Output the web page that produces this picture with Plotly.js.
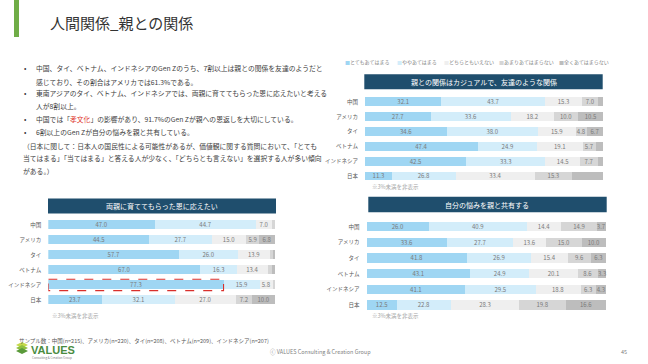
<!DOCTYPE html>
<html><head><meta charset="utf-8">
<script src="https://cdn.plot.ly/plotly-3.0.1.min.js"></script>
<style>html,body{margin:0;padding:0;background:#fff}#chart{width:648px;height:364px}</style>
</head><body><div id="chart"></div>
<script>
// ---------- DATA ----------
const countries = ['中国','アメリカ','タイ','ベトナム','インドネシア','日本'];
const responses = ['とてもあてはまる','ややあてはまる','どちらともいえない','あまりあてはまらない','全くあてはまらない'];

// Chart 1: 親との関係はカジュアルで、友達のような関係
const friendVery   = [32.1, 27.7, 34.6, 47.4, 42.5, 11.3];
const friendSome   = [43.7, 33.6, 38.0, 24.9, 33.3, 26.8];
const friendNeut   = [15.3, 18.2, 15.9, 19.1, 14.5, 33.4];
const friendNotMuch= [7.0, 10.0, 4.8, 5.7, 7.7, 15.3];
const friendNot    = [1.9, 10.5, 6.7, 2.9, 2.0, 13.3];

// Chart 2: 両親に育ててもらった恩に応えたい
const repayVery    = [47.0, 44.5, 57.7, 67.0, 77.3, 23.7];
const repaySome    = [44.7, 27.7, 26.0, 16.3, 15.9, 32.1];
const repayNeut    = [7.0, 15.0, 13.9, 13.4, 5.8, 27.0];
const repayNotMuch = [1.3, 5.9, 1.4, 1.9, 1.0, 7.2];
const repayNot     = [0.0, 6.8, 1.0, 1.4, 0.0, 10.0];

// Chart 3: 自分の悩みを親と共有する
const shareVery    = [26.0, 33.6, 41.8, 43.1, 41.1, 12.5];
const shareSome    = [40.9, 27.7, 26.9, 24.9, 29.5, 22.8];
const shareNeut    = [14.4, 13.6, 15.4, 20.1, 18.8, 28.3];
const shareNotMuch = [14.9, 15.0, 9.6, 8.6, 6.3, 19.8];
const shareNot     = [3.7, 10.0, 6.3, 3.3, 4.3, 16.6];

const chartTitles = ['親との関係はカジュアルで、友達のような関係','両親に育ててもらった恩に応えたい','自分の悩みを親と共有する'];
const highlightCountry = 'インドネシア';

// ---------- STYLE ----------
const W = 648, H = 364;
const fx = x => x / W, fy = y => 1 - y / H;
const colors = ['#9fd6f3','#d3edfa','#efefef','#d6d6d6','#bdbdbd'];
const FONT = '"Noto Sans CJK JP", "Noto Sans", sans-serif';
const darkBlue = '#1f4e6d';

const charts = [
  {series:[friendVery,friendSome,friendNeut,friendNotMuch,friendNot], xd:[365,603], yd:[94.3,183.4], head:[364.3,602.7,74.3,89.3], note:[370,187]},
  {series:[repayVery,repaySome,repayNeut,repayNotMuch,repayNot], xd:[48.3,275], yd:[217.2,307.5], head:[48,276,198.5,213.5], note:[50,316]},
  {series:[shareVery,shareSome,shareNeut,shareNotMuch,shareNot], xd:[366.7,606], yd:[218.8,312.8], head:[368.3,606.7,196.7,212.3], note:[370,316]}
];

const traces = [];
const layout = {
  width: W, height: H, margin:{l:0,r:0,t:0,b:0},
  paper_bgcolor:'#fff', plot_bgcolor:'rgba(0,0,0,0)',
  barmode:'stack', bargap:0.4, showlegend:false,
  font:{family:FONT, color:'#595959'},
  uniformtext:{mode:'show', minsize:6},
  shapes:[], annotations:[]
};

charts.forEach((c, ci) => {
  const sx = ci === 0 ? '' : String(ci+1);
  c.series.forEach((vals, si) => {
    traces.push({
      type:'bar', orientation:'h', y:countries, x:vals, name:responses[si],
      xaxis:'x'+sx, yaxis:'y'+sx,
      marker:{color:colors[si], line:{width:0}},
      text: vals.map(v => v >= 3 ? v.toFixed(1) : ''),
      textposition:'inside', insidetextanchor:'middle', textangle:0, constraintext:'none',
      textfont:{size:6, color:'#7a7a7a', family:FONT},
      hoverinfo:'skip', cliponaxis:false
    });
  });
  layout['xaxis'+sx] = {domain:[fx(c.xd[0]), fx(c.xd[1])], range:[0,100], anchor:'y'+sx,
    showgrid:false, zeroline:false, showticklabels:false, fixedrange:true, automargin:false};
  layout['yaxis'+sx] = {domain:[fy(c.yd[1]), fy(c.yd[0])], anchor:'x'+sx, autorange:'reversed',
    showgrid:false, zeroline:false, ticks:'outside', ticklen:5, tickcolor:'rgba(0,0,0,0)',
    tickfont:{size:5.5, color:'#595959', family:FONT}, automargin:false};
  const h = c.head;
  layout.shapes.push({type:'rect', xref:'paper', yref:'paper', x0:fx(h[0]), x1:fx(h[1]), y0:fy(h[3]), y1:fy(h[2]),
    fillcolor:darkBlue, line:{width:0}, layer:'below'});
  layout.annotations.push({xref:'paper', yref:'paper', x:fx((h[0]+h[1])/2), y:fy((h[2]+h[3])/2),
    text:chartTitles[ci], showarrow:false, xanchor:'center', yanchor:'middle',
    font:{size:7, color:'#ffffff', family:FONT}});
  layout.annotations.push({xref:'paper', yref:'paper', x:fx(c.note[0]), y:fy(c.note[1]),
    text:'※3%未満を非表示', showarrow:false, xanchor:'left', yanchor:'middle',
    font:{size:5.5, color:'#a6a6a6', family:FONT}});
});

// highlight box around Indonesia "very" segment in chart 2
const hi = countries.indexOf(highlightCountry);
layout.shapes.push({type:'rect', xref:'x2', yref:'y2', x0:0, x1:repayVery[hi], y0:hi-0.38, y1:hi+0.38,
  line:{color:'#d9302c', width:1.1, dash:'dash'}, fillcolor:'rgba(0,0,0,0)'});

// legend (annotations)
const legX = [343, 395, 441.7, 496.7, 556.7];
responses.forEach((r, i) => {
  layout.annotations.push({xref:'paper', yref:'paper', x:fx(legX[i]), y:fy(62), showarrow:false,
    xanchor:'left', yanchor:'middle',
    text:'<span style="color:'+colors[i]+'">■</span>'+r, font:{size:5, color:'#7f7f7f', family:FONT}});
});

// page title + accent bar
layout.shapes.push({type:'rect', xref:'paper', yref:'paper', x0:fx(14), x1:fx(19), y0:fy(37), y1:fy(0),
  fillcolor:'#70ad47', line:{width:0}});
layout.annotations.push({xref:'paper', yref:'paper', x:fx(48), y:fy(22), showarrow:false,
  xanchor:'left', yanchor:'middle', text:'人間関係_親との関係', font:{size:15, color:'#333333', family:FONT}});

// bullet text
const lines = [
  ['•', '中国、タイ、ベトナム、インドネシアのGen Zのうち、7割以上は親との関係を友達のようだと', 68.3],
  ['', '感じており、その割合はアメリカでは61.3%である。', 81.7],
  ['•', '東南アジアのタイ、ベトナム、インドネシアでは、両親に育ててもらった恩に応えたいと考える', 93.3],
  ['', '人が8割以上。', 105.7],
  ['•', '中国では「<span style="color:#e03c31">孝文化</span>」の影響があり、91.7%のGen Zが親への恩返しを大切にしている。', 119.3],
  ['•', '6割以上のGen Zが自分の悩みを親と共有している。', 131.7]
];
lines.forEach(l => {
  if (l[0]) layout.annotations.push({xref:'paper', yref:'paper', x:fx(22), y:fy(l[2]), showarrow:false,
    xanchor:'left', yanchor:'middle', text:l[0], font:{size:7, color:'#404040', family:FONT}});
  layout.annotations.push({xref:'paper', yref:'paper', x:fx(34.3), y:fy(l[2]), showarrow:false,
    xanchor:'left', yanchor:'middle', text:l[1], font:{size:6.8, color:'#404040', family:FONT}});
});
const paren = [
  ['（日本に関して：日本人の国民性による可能性があるが、価値観に関する質問において、「とても', 146],
  ['当てはまる」「当てはまる」と答える人が少なく、「どちらとも言えない」を選択する人が多い傾向', 158.3],
  ['がある。）', 170.7]
];
paren.forEach(p => layout.annotations.push({xref:'paper', yref:'paper', x:fx(21), y:fy(p[1]), showarrow:false,
  xanchor:'left', yanchor:'middle', text:p[0], font:{size:6.8, color:'#404040', family:FONT}}));

// footer
layout.annotations.push({xref:'paper', yref:'paper', x:fx(17), y:fy(341), showarrow:false, xanchor:'left', yanchor:'middle',
  text:'サンプル数：中国(n=215)、アメリカ(n=220)、タイ(n=208)、ベトナム(n=209)、インドネシア(n=207)',
  font:{size:5.5, color:'#595959', family:FONT}});
layout.annotations.push({xref:'paper', yref:'paper', x:fx(29), y:fy(350), showarrow:false, xanchor:'left', yanchor:'middle',
  text:'<b>VALUES</b>', font:{size:11, color:'#4a8c3f', family:'"Liberation Sans", sans-serif'}});
layout.annotations.push({xref:'paper', yref:'paper', x:fx(30), y:fy(358), showarrow:false, xanchor:'left', yanchor:'middle',
  text:'Consulting & Creation Group', font:{size:3, color:'#7f7f7f', family:FONT}});
[['#c5d94a',345],['#8fbf3f',348],['#5a9a3a',351]].forEach(s => layout.shapes.push({type:'path', xref:'paper', yref:'paper',
  path:'M '+fx(16)+','+fy(s[1])+' L '+fx(22)+','+fy(s[1]-3)+' L '+fx(28)+','+fy(s[1])+' L '+fx(22)+','+fy(s[1]+3)+' Z',
  fillcolor:s[0], line:{width:0}}));
layout.annotations.push({xref:'paper', yref:'paper', x:fx(320), y:fy(352), showarrow:false, xanchor:'center', yanchor:'middle',
  text:'ⓒ VALUES Consulting & Creation Group', font:{size:5.5, color:'#7f7f7f', family:FONT}});
layout.annotations.push({xref:'paper', yref:'paper', x:fx(624), y:fy(352), showarrow:false, xanchor:'center', yanchor:'middle',
  text:'45', font:{size:5.5, color:'#7f7f7f', family:FONT}});

Plotly.newPlot('chart', traces, layout, {staticPlot:true, displayModeBar:false});
</script></body></html>
